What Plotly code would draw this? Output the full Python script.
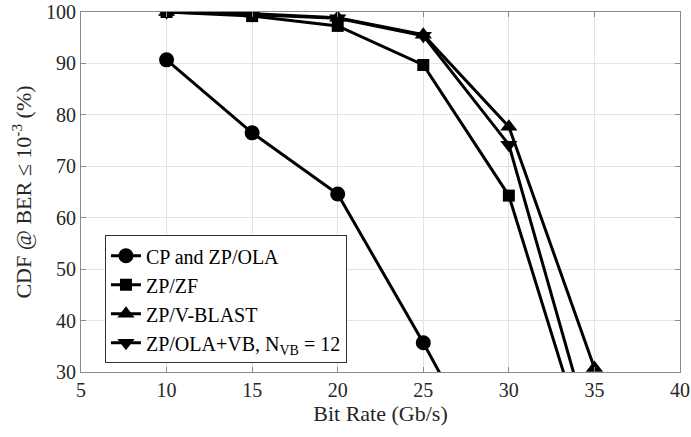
import plotly.graph_objects as go

# Bit rates (Gb/s)
bit_rate = [10, 15, 20, 25, 30, 35]

# CDF of BER <= 1e-3 (%) for each scheme
cp_zp_ola = [90.7, 76.5, 64.6, 35.7, 5.0, 0.0]
zp_zf = [100.0, 99.2, 97.3, 89.7, 64.3, 10.5]
zp_vblast = [100.0, 99.7, 98.9, 95.6, 77.7, 30.8]
zp_ola_vb = [100.0, 99.5, 98.8, 95.4, 74.2, 15.6]

series = [
    ("CP and ZP/OLA", cp_zp_ola, "circle", 15),
    ("ZP/ZF", zp_zf, "square", 12),
    ("ZP/V-BLAST", zp_vblast, "triangle-up", 15),
    ("ZP/OLA+VB, N<sub>VB</sub> = 12", zp_ola_vb, "triangle-down", 15),
]

FONT = "Liberation Serif, serif"

fig = go.Figure()
for name, vals, sym, size in series:
    fig.add_trace(go.Scatter(
        x=bit_rate, y=vals, name=name, mode="lines+markers",
        line=dict(color="black", width=3),
        marker=dict(symbol=sym, size=size, color="black"),
    ))

axis_common = dict(
    showgrid=True, gridcolor="#e3e3e3", gridwidth=1,
    showline=True, linecolor="#8a8a8a", linewidth=1, mirror="ticks",
    ticks="inside", ticklen=5, tickcolor="#8a8a8a",
    zeroline=False, automargin=False,
    tickfont=dict(family=FONT, size=20, color="#262626"),
)

fig.update_layout(
    width=691, height=437,
    margin=dict(l=81, r=11, t=12, b=65),
    paper_bgcolor="white", plot_bgcolor="white",
    font=dict(family=FONT, color="#262626"),
    xaxis=dict(range=[5, 40], dtick=5, **axis_common,
               title=dict(text="Bit Rate (Gb/s)", font=dict(family=FONT, size=22), standoff=4)),
    yaxis=dict(range=[30, 100], dtick=10, **axis_common,
               title=dict(text="CDF @ BER \u2264 10<sup>-3</sup> (%)", font=dict(family=FONT, size=22), standoff=8)),
    legend=dict(
        x=0.04, y=0.38, xanchor="left", yanchor="top",
        bgcolor="white", bordercolor="#333333", borderwidth=1,
        font=dict(family=FONT, size=20, color="black"),
        itemwidth=30, tracegroupgap=0,
    ),
)

fig.write_html("out.html")
